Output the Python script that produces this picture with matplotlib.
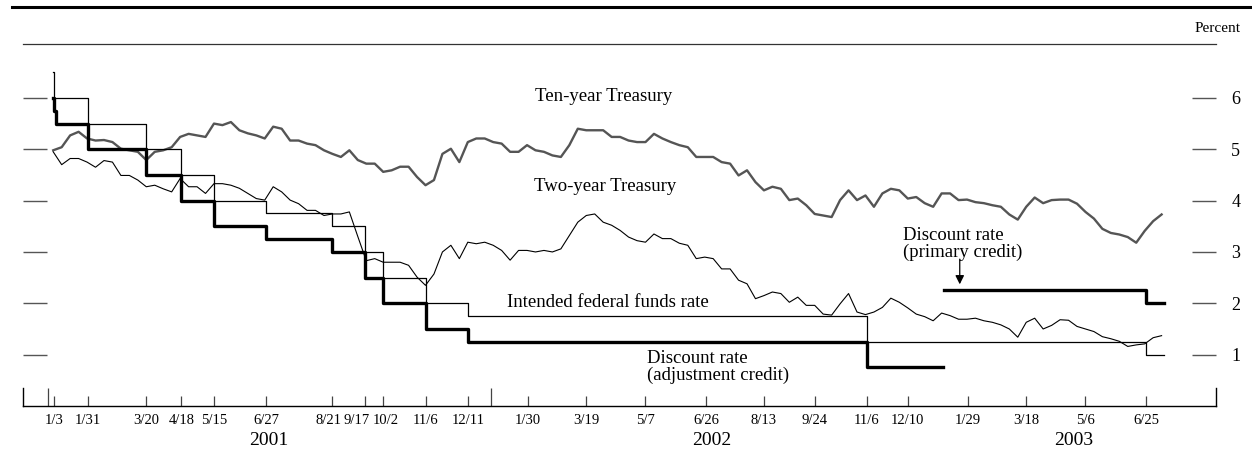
import pandas as pd
import numpy as np
import matplotlib
matplotlib.use('Agg')
import matplotlib.pyplot as plt
import matplotlib.dates as mdates
import matplotlib.transforms as mtransforms
from matplotlib.lines import Line2D

plt.rcParams['font.family'] = ['Liberation Serif', 'DejaVu Serif']

# Weekly readings of the Treasury yields (percent), starting 2001-01-02
weeks = pd.date_range('2001-01-02', periods=132, freq='7D')

ten_year = [
    4.98, 5.04, 5.27, 5.34, 5.21, 5.17, 5.18, 5.14, 5.01, 4.98, 4.95, 4.79,
    4.95, 4.98, 5.04, 5.24, 5.30, 5.27, 5.24, 5.50, 5.47, 5.53, 5.37, 5.31,
    5.27, 5.21, 5.44, 5.40, 5.17, 5.17, 5.11, 5.08, 4.98, 4.91, 4.85, 4.98,
    4.79, 4.72, 4.72, 4.56, 4.59, 4.66, 4.66, 4.46, 4.30, 4.40, 4.91, 5.01,
    4.75, 5.14, 5.21, 5.21, 5.14, 5.11, 4.95, 4.95, 5.08, 4.98, 4.95, 4.88,
    4.85, 5.08, 5.40, 5.37, 5.37, 5.37, 5.24, 5.24, 5.17, 5.14, 5.14, 5.30,
    5.21, 5.14, 5.08, 5.04, 4.85, 4.85, 4.85, 4.75, 4.72, 4.49, 4.59, 4.36,
    4.20, 4.27, 4.23, 4.01, 4.04, 3.91, 3.74, 3.71, 3.68, 4.01, 4.20, 4.01,
    4.10, 3.88, 4.14, 4.23, 4.20, 4.04, 4.07, 3.95, 3.88, 4.14, 4.14, 4.01,
    4.02, 3.97, 3.95, 3.91, 3.88, 3.73, 3.63, 3.88, 4.06, 3.95, 4.01, 4.02,
    4.02, 3.94, 3.78, 3.65, 3.45, 3.37, 3.34, 3.29, 3.18, 3.41, 3.60, 3.73,
]

two_year = [
    4.95, 4.70, 4.82, 4.82, 4.75, 4.65, 4.78, 4.75, 4.49, 4.49, 4.40, 4.27,
    4.30, 4.23, 4.17, 4.43, 4.27, 4.27, 4.14, 4.33, 4.33, 4.30, 4.24, 4.14,
    4.04, 4.01, 4.27, 4.17, 4.01, 3.94, 3.81, 3.81, 3.71, 3.74, 3.74, 3.78,
    3.30, 2.83, 2.87, 2.80, 2.80, 2.80, 2.74, 2.51, 2.35, 2.57, 3.00, 3.13,
    2.87, 3.19, 3.16, 3.19, 3.13, 3.03, 2.84, 3.03, 3.03, 3.00, 3.03, 3.00,
    3.06, 3.32, 3.58, 3.71, 3.74, 3.58, 3.52, 3.42, 3.29, 3.22, 3.19, 3.35,
    3.26, 3.26, 3.17, 3.13, 2.87, 2.90, 2.87, 2.67, 2.67, 2.45, 2.38, 2.09,
    2.15, 2.22, 2.19, 2.02, 2.12, 1.96, 1.96, 1.79, 1.77, 1.99, 2.19, 1.83,
    1.78, 1.83, 1.92, 2.10, 2.02, 1.91, 1.79, 1.74, 1.66, 1.81, 1.76, 1.69,
    1.69, 1.71, 1.66, 1.63, 1.58, 1.50, 1.34, 1.63, 1.71, 1.50, 1.57, 1.68,
    1.67, 1.55, 1.50, 1.45, 1.35, 1.31, 1.26, 1.16, 1.19, 1.21, 1.33, 1.37,
]

# Policy rates (step changes)
ff_dates = ['2001-01-02', '2001-01-03', '2001-01-31', '2001-03-20', '2001-04-18',
            '2001-05-15', '2001-06-27', '2001-08-21', '2001-09-17', '2001-10-02',
            '2001-11-06', '2001-12-11', '2002-11-06', '2003-06-25', '2003-07-10']
ff_rate = [6.5, 6.0, 5.5, 5.0, 4.5, 4.0, 3.75, 3.5, 3.0, 2.5, 2.0, 1.75, 1.25, 1.0, 1.0]

adj_dates = ['2001-01-02', '2001-01-03', '2001-01-04', '2001-01-31', '2001-03-20',
             '2001-04-18', '2001-05-15', '2001-06-27', '2001-08-21', '2001-09-17',
             '2001-10-02', '2001-11-06', '2001-12-11', '2002-11-06', '2003-01-08']
adj_rate = [6.0, 5.75, 5.5, 5.0, 4.5, 4.0, 3.5, 3.25, 3.0, 2.5, 2.0, 1.5, 1.25, 0.75, 0.75]

prim_dates = ['2003-01-09', '2003-06-25', '2003-07-10']
prim_rate = [2.25, 2.0, 2.0]

# FOMC meeting dates on the x axis
fomc_dates = ['2001-01-03', '2001-01-31', '2001-03-20', '2001-04-18', '2001-05-15',
              '2001-06-27', '2001-08-21', '2001-09-17', '2001-10-02', '2001-11-06',
              '2001-12-11', '2002-01-30', '2002-03-19', '2002-05-07', '2002-06-26',
              '2002-08-13', '2002-09-24', '2002-11-06', '2002-12-10', '2003-01-29',
              '2003-03-18', '2003-05-06', '2003-06-25']
fomc_labels = ['1/3', '1/31', '3/20', '4/18', '5/15', '6/27', '8/21', '9/17', '10/2',
               '11/6', '12/11', '1/30', '3/19', '5/7', '6/26', '8/13', '9/24', '11/6',
               '12/10', '1/29', '3/18', '5/6', '6/25']
year_marks = ['2000-12-29', '2001-12-30']
year_labels = ['2001', '2002', '2003']
year_label_pos = ['2001-06-29', '2002-07-01', '2003-04-26']

fig = plt.figure(figsize=(12.52, 4.51), dpi=100)
ax = fig.add_axes([23 / 1252, 45 / 451, 1193 / 1252, 362 / 451])

ax.plot(weeks, ten_year, color='#555555', lw=1.7)
ax.plot(weeks, two_year, color='black', lw=0.8)
ax.step(pd.to_datetime(ff_dates), ff_rate, where='post', color='black', lw=0.9)
ax.step(pd.to_datetime(adj_dates), adj_rate, where='post', color='black', lw=2.4)
ax.step(pd.to_datetime(prim_dates), prim_rate, where='post', color='black', lw=2.4)

ax.set_xlim(pd.Timestamp('2000-12-08'), pd.Timestamp('2003-08-22'))
ax.set_ylim(0, 7.05)

ax.set_xticks(pd.to_datetime(fomc_dates))
ax.set_xticklabels(fomc_labels)
ax.set_xticks(pd.to_datetime(year_marks), minor=True)
ax.tick_params(axis='x', which='major', direction='in', length=7.2, width=0.9,
               color='#444444', labelsize=10.5, pad=6)
ax.tick_params(axis='x', which='minor', direction='in', length=13, width=0.9,
               color='#444444')

# crowded labels around September 2001 are nudged apart
nudges = {'8/21': -4, '9/17': -9, '10/2': 3}
for lab in ax.get_xticklabels():
    dx = nudges.get(lab.get_text())
    if dx:
        lab.set_transform(lab.get_transform() +
                          mtransforms.ScaledTranslation(dx / 100, 0, fig.dpi_scale_trans))

ax.set_yticks([1, 2, 3, 4, 5, 6])
ax.tick_params(axis='y', direction='in', length=17.3, width=1, color='#555555',
               left=True, right=True, labelleft=False, labelright=True,
               labelsize=13, pad=11)

ax.spines['left'].set_visible(False)
ax.spines['right'].set_visible(False)
ax.spines['top'].set_color('#333333')
ax.spines['top'].set_linewidth(0.9)
ax.spines['bottom'].set_linewidth(1.0)

# short end bars on the date axis
for xa in [0, 1]:
    ax.plot([xa, xa], [0, 0.05], color='black', lw=1, transform=ax.transAxes, clip_on=False)

trans = mtransforms.blended_transform_factory(ax.transData, ax.transAxes)
for lab, pos in zip(year_labels, year_label_pos):
    ax.text(mdates.date2num(pd.Timestamp(pos)), -0.094, lab, transform=trans,
            ha='center', va='center', fontsize=14)

def d(s):
    return mdates.date2num(pd.Timestamp(s))

ax.text(d('2002-04-02'), 6.02, 'Ten-year Treasury', ha='center', va='center', fontsize=13.5)
ax.text(d('2002-04-04'), 4.27, 'Two-year Treasury', ha='center', va='center', fontsize=13.5)
ax.text(d('2002-04-06'), 2.02, 'Intended federal funds rate', ha='center', va='center',
        fontsize=13.5)
ax.text(d('2002-05-08'), 0.76, 'Discount rate\n(adjustment credit)', ha='left',
        va='center', fontsize=13.5, linespacing=0.95)
ax.text(d('2002-12-06'), 3.15, 'Discount rate\n(primary credit)', ha='left',
        va='center', fontsize=13.5, linespacing=0.95)
ax.annotate('', xy=(d('2003-01-22'), 2.37), xytext=(d('2003-01-22'), 2.86),
            arrowprops=dict(arrowstyle='-|>', color='black', lw=0.9,
                            mutation_scale=13, shrinkA=0, shrinkB=0))

fig.add_artist(Line2D([12 / 1252, 1.0], [444 / 451, 444 / 451], color='black', lw=2.2))
fig.text(1241 / 1252, 422 / 451, 'Percent', ha='right', va='center', fontsize=11)

fig.savefig('out.png', dpi=100)
